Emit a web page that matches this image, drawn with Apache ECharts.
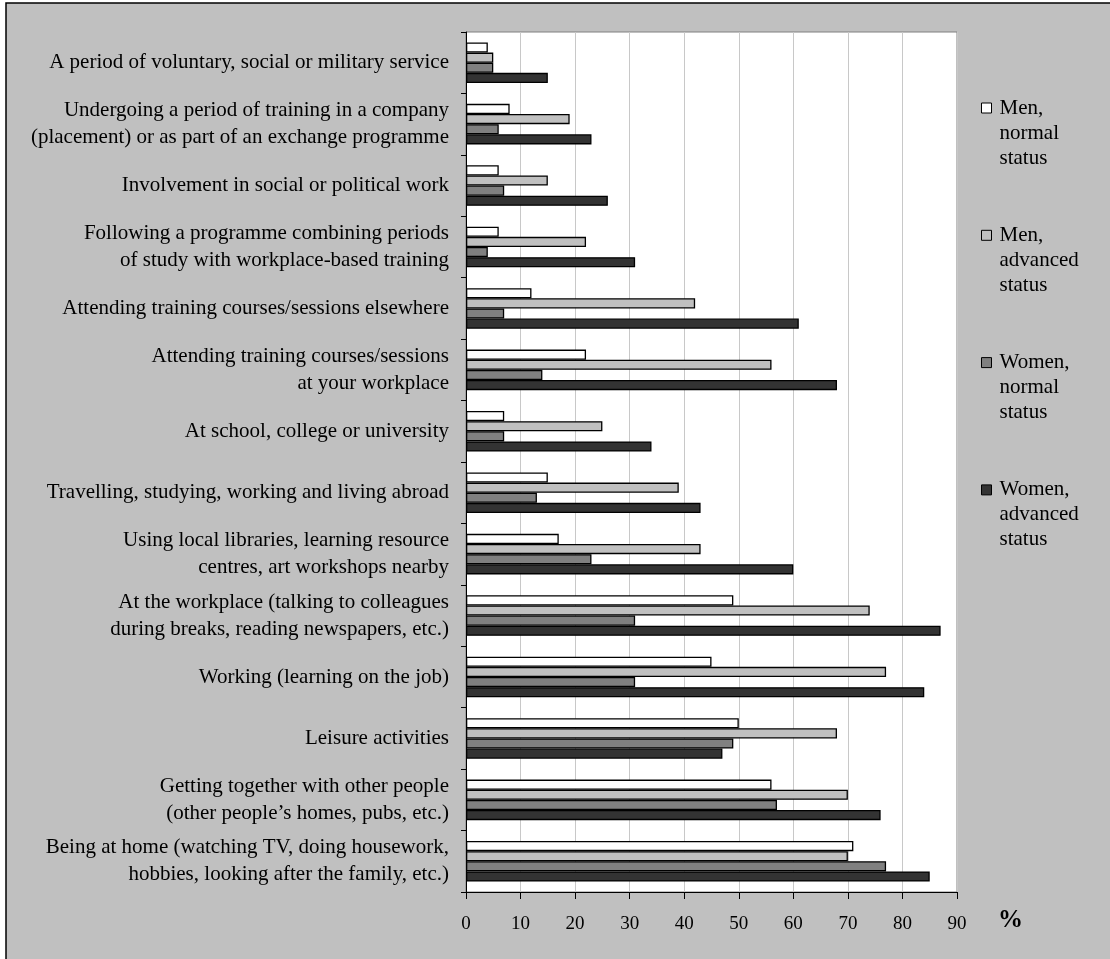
<!DOCTYPE html>
<html>
<head>
<meta charset="utf-8">
<script src="https://cdn.jsdelivr.net/npm/echarts@6/dist/echarts.min.js"></script>
<style>
html,body{margin:0;padding:0;background:#fff;}
#chart{width:1110px;height:959px;}
</style>
</head>
<body>
<div id="chart"></div>
<script>
const categories = [
  "A period of voluntary, social or military service",
  "Undergoing a period of training in a company\n(placement) or as part of an exchange programme",
  "Involvement in social or political work",
  "Following a programme combining periods\nof study with workplace-based training",
  "Attending training courses/sessions elsewhere",
  "Attending training courses/sessions\nat your workplace",
  "At school, college or university",
  "Travelling, studying, working and living abroad",
  "Using local libraries, learning resource\ncentres, art workshops nearby",
  "At the workplace (talking to colleagues\nduring breaks, reading newspapers, etc.)",
  "Working (learning on the job)",
  "Leisure activities",
  "Getting together with other people\n(other people\u2019s homes, pubs, etc.)",
  "Being at home (watching TV, doing housework,\nhobbies, looking after the family, etc.)"
];
const seriesNames = ["Men, normal status", "Men, advanced status", "Women, normal status", "Women, advanced status"];
const legendLabels = ["Men,\nnormal\nstatus", "Men,\nadvanced\nstatus", "Women,\nnormal\nstatus", "Women,\nadvanced\nstatus"];
const menNormal     = [4, 8, 6, 6, 12, 22, 7, 15, 17, 49, 45, 50, 56, 71];
const menAdvanced   = [5, 19, 15, 22, 42, 56, 25, 39, 43, 74, 77, 68, 70, 70];
const womenNormal   = [5, 6, 7, 4, 7, 14, 7, 13, 23, 31, 31, 49, 57, 77];
const womenAdvanced = [15, 23, 26, 31, 61, 68, 34, 43, 60, 87, 84, 47, 76, 85];
const xTicks = [0, 10, 20, 30, 40, 50, 60, 70, 80, 90];
const colors = ["#FFFFFF", "#C0C0C0", "#808080", "#333333"];

const values = [menNormal, menAdvanced, womenNormal, womenAdvanced];
const font = "Liberation Serif";

const chart = echarts.init(document.getElementById('chart'), null, {renderer: 'canvas'});
chart.setOption({
  animation: false,
  backgroundColor: 'transparent',
  graphic: [{
    type: 'rect', z: -10, silent: true,
    shape: {x: 6, y: 3, width: 1200, height: 1000},
    style: {fill: '#C0C0C0', stroke: '#000', lineWidth: 1.5}
  }],
  grid: {
    left: 466, right: 153, top: 32, bottom: 67,
    show: true, backgroundColor: '#FFFFFF', borderColor: '#808080', borderWidth: 1
  },
  legend: {
    orient: 'vertical', left: 981, top: 45.5, padding: 0, itemGap: 2.3,
    icon: 'rect', itemWidth: 10, itemHeight: 10,
    itemStyle: {borderColor: '#000', borderWidth: 1},
    data: seriesNames,
    formatter: function (n) { return '\n\n' + legendLabels[seriesNames.indexOf(n)]; },
    textStyle: {fontFamily: font, fontSize: 21, color: '#000', lineHeight: 25, padding: [0, 0, 0, 3]}
  },
  xAxis: {
    type: 'value', min: 0, max: 90, interval: 10,
    name: '%', nameLocation: 'end', nameGap: 41,
    nameTextStyle: {fontFamily: font, fontSize: 25, fontWeight: 'bold', color: '#000',
      verticalAlign: 'top', lineHeight: 58},
    axisLine: {show: true, lineStyle: {color: '#000', width: 1}},
    axisTick: {show: true, length: 7, lineStyle: {color: '#000'}},
    axisLabel: {fontFamily: font, fontSize: 19, color: '#000', margin: 23,
      formatter: function (v) { return xTicks.indexOf(v) >= 0 ? String(v) : ''; }},
    splitLine: {show: true, lineStyle: {color: '#C8C8C8', width: 1}}
  },
  yAxis: {
    type: 'category', inverse: true, data: categories,
    axisLine: {show: true, lineStyle: {color: '#000', width: 1}},
    axisTick: {show: true, length: 5, lineStyle: {color: '#000'}},
    axisLabel: {fontFamily: font, fontSize: 21, color: '#000', margin: 17, lineHeight: 27, align: 'right'},
    splitLine: {show: false}
  },
  series: seriesNames.map(function (name, i) {
    return {
      name: name, type: 'bar', data: values[i],
      barGap: '0%', barCategoryGap: '34%',
      itemStyle: {color: colors[i], borderColor: '#000', borderWidth: 1.3}
    };
  })
});
</script>
</body>
</html>
